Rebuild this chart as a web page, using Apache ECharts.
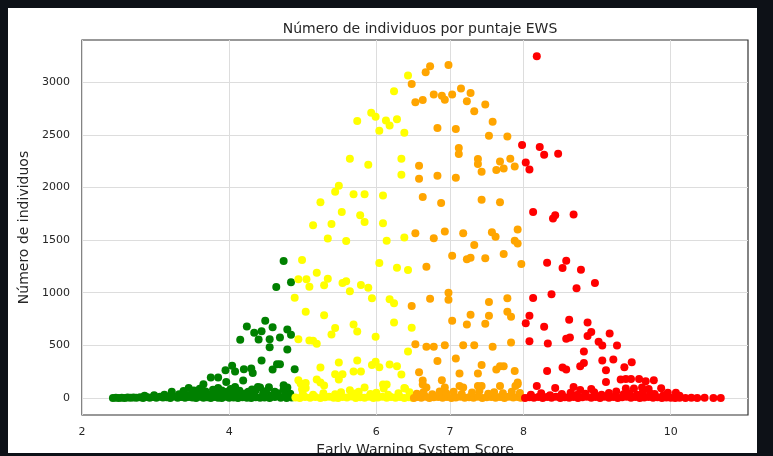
<!DOCTYPE html>
<html>
<head>
<meta charset="utf-8">
<script src="https://cdn.jsdelivr.net/npm/echarts@6/dist/echarts.min.js"></script>
<style>
  html, body { margin: 0; padding: 0; background: #0d1117; width: 773px; height: 456px; overflow: hidden; }
  #wrap { position: absolute; left: 8px; top: 8px; width: 749px; height: 445px; overflow: hidden; background: #ffffff; }
  #chart { position: absolute; left: -8px; top: -8px; width: 773px; height: 456px; }
</style>
</head>
<body>
<div id="wrap"><div id="chart"></div></div>
<script>
const xTicks = [2, 4, 6, 7, 8, 10];
const yTicks = [0, 500, 1000, 1500, 2000, 2500, 3000];

const greenPoints = [
  [4.74,1302],[4.84,1099],[4.64,1054],
  [4.49,733],[4.24,680],[4.34,619],[4.44,635],[4.59,673],[4.79,651],[4.84,600],
  [4.15,552],[4.40,556],[4.55,559],[4.69,575],[4.55,483],[4.79,461],
  [4.44,356],[4.65,321],[4.69,321],[4.59,270],
  [4.04,305],[3.95,264],[4.20,273],[4.30,280],[4.32,238],[4.89,273],[4.08,251],
  [3.75,194],[3.85,194],[3.96,152],[4.19,165],[3.65,130],
  [4.74,121],[4.54,102],[4.39,105],[4.79,100],[4.42,99],[4.74,80],[4.31,80],[3.45,95],
  [2.42,0],[2.46,2],[2.50,0],[2.54,3],[2.58,0],[2.62,4],[2.66,1],[2.70,5],[2.74,2],[2.79,6],
  [2.83,0],[2.88,8],[2.92,3],[2.97,10],[3.01,2],[3.06,12],[3.10,4],[3.15,6],[3.20,0],[3.25,14],
  [3.30,3],[3.35,8],[3.40,1],[3.45,10],[3.50,4],[3.55,0],[3.60,12],[3.65,2],[3.70,6],[3.75,0],
  [3.80,9],[3.85,3],[3.90,0],[3.95,11],[4.00,2],[4.06,5],[4.12,0],[4.18,7],[4.24,2],[4.30,0],
  [4.36,6],[4.42,1],[4.48,4],[4.55,0],[4.62,8],[4.70,2],[4.78,0],[4.85,5],
  [2.85,22],[2.98,26],[3.12,30],[3.22,25],[3.32,35],[3.42,28],[3.50,40],[3.58,32],[3.66,45],[3.72,30],
  [3.79,48],[3.86,38],[3.92,44],[3.99,30],[4.05,50],[4.13,36],[4.22,42],[4.33,30],[4.46,38],[4.58,25],
  [4.66,44],[4.76,30],[4.83,40],
  [3.22,58],[3.38,66],[3.52,72],[3.60,88],[3.68,62],[3.78,78],[3.85,95],[3.90,70],[3.97,60],[4.02,85],
  [4.08,105],[4.14,68],[4.26,60],[4.36,72],[4.50,64],[4.62,58]
];

const yellowPoints = [
  [6.43,3064],[6.24,2914],[5.93,2711],[5.99,2673],[5.74,2632],[6.13,2638],[6.28,2648],[6.18,2590],[6.04,2540],[6.38,2521],
  [5.64,2273],[5.89,2216],[6.34,2273],[6.34,2121],[5.49,2016],[5.44,1959],[5.69,1937],[5.84,1937],[6.09,1924],[5.24,1861],
  [5.53,1768],[5.78,1737],[5.84,1673],[5.14,1642],[5.39,1654],[6.09,1661],[5.34,1515],[5.59,1492],[6.14,1495],[6.38,1524],
  [4.99,1311],[6.04,1283],[6.28,1238],[6.43,1216],
  [4.94,1128],[5.05,1128],[5.09,1057],[5.19,1190],[5.34,1133],[5.29,1070],[5.54,1092],[5.59,1108],[5.64,1013],[5.79,1073],
  [5.89,1047],[5.94,947],[4.89,952],[6.18,937],[6.24,899],
  [5.04,819],[5.29,785],[6.24,718],[6.48,667],[5.69,699],[5.74,632],[5.44,664],[5.39,604],[5.99,581],
  [4.94,559],[5.09,547],[5.14,543],[5.19,514],[6.43,442],
  [5.24,290],[5.49,337],[5.74,356],[5.94,314],[5.99,343],[6.04,292],[6.18,318],[6.28,302],[5.69,251],[5.79,251],
  [5.44,226],[5.54,226],[5.49,175],[5.19,175],[5.24,147],[5.29,118],[4.94,169],[5.04,143],[6.34,223],
  [4.99,83],[5.84,99],[6.09,128],[6.14,128],[6.38,95],[4.97,137],[5.04,95],[5.64,73],[6.10,89],[6.39,89],
  [4.90,5],[4.96,0],[5.03,8],[5.10,2],[5.17,10],[5.24,0],[5.30,6],[5.36,12],[5.42,3],[5.48,0],
  [5.54,9],[5.60,4],[5.66,14],[5.72,0],[5.78,7],[5.84,2],[5.90,11],[5.96,0],[6.02,5],[6.08,12],
  [6.14,1],[6.20,8],[6.26,3],[6.32,10],[6.38,0],[6.44,6],[6.49,2],
  [5.00,40],[5.14,30],[5.28,45],[5.44,35],[5.52,55],[5.70,42],[5.76,60],[5.92,38],[6.00,50],[6.16,30],
  [6.30,45],[6.45,55]
];

const orangePoints = [
  [6.73,3152],[6.67,3095],[6.98,3165],[6.48,2985],[6.78,2883],[6.89,2873],[6.93,2835],[7.03,2883],[7.15,2940],[6.53,2810],
  [6.63,2832],[6.83,2566],[7.08,2556],[7.12,2375],[7.12,2318],[6.58,2207],[6.58,2083],[6.83,2111],[7.08,2092],[6.63,1911],
  [6.88,1854],[7.28,2899],[7.23,2819],[7.48,2790],[7.33,2724],[7.58,2626],[7.53,2492],[7.78,2486],[7.38,2270],[7.38,2223],
  [7.68,2248],[7.82,2273],[7.88,2200],[7.43,2150],[7.63,2166],[7.73,2181],[7.43,1883],[7.68,1861],
  [6.93,1581],[7.18,1566],[7.57,1575],[7.62,1533],[7.92,1600],[7.88,1495],[7.92,1467],[7.33,1454],[7.03,1352],[7.23,1318],
  [7.28,1333],[7.48,1327],[7.73,1369],[7.97,1273],[6.53,1566],[6.78,1518],[6.68,1248],
  [6.98,1000],[6.98,933],[7.53,911],[7.78,947],[6.73,943],[6.48,873],
  [7.03,733],[7.28,790],[7.23,699],[7.48,705],[7.53,781],[7.78,819],[7.83,771],
  [6.93,502],[7.18,502],[7.33,502],[7.58,486],[7.83,528],[6.53,511],[6.68,486],[6.78,486],
  [7.08,375],[7.43,314],[7.63,270],[7.68,302],[7.73,302],[6.83,352],
  [7.13,232],[7.38,232],[7.88,257],[6.58,245],
  [6.89,169],[7.92,147],[6.63,166],[6.63,128],[6.93,99],
  [7.13,114],[7.38,114],[7.43,114],[7.68,114],[7.89,114],[6.68,99],[7.18,99],[7.92,130],
  [6.51,0],[6.56,8],[6.61,3],[6.67,12],[6.72,0],[6.78,6],[6.84,10],[6.90,2],[6.96,9],[7.02,0],
  [7.08,5],[7.14,12],[7.20,1],[7.26,7],[7.32,3],[7.38,11],[7.44,0],[7.50,6],[7.56,10],[7.62,2],
  [7.68,8],[7.74,0],[7.80,12],[7.86,4],[7.92,9],[7.96,2],
  [6.55,40],[6.64,55],[6.76,35],[6.86,62],[6.95,45],[7.05,58],[7.16,38],[7.30,52],[7.40,66],[7.52,40],
  [7.60,55],[7.72,45],[7.84,60],[7.95,48]
];

const redPoints = [
  [8.18,3248],[7.98,2404],[8.22,2385],[8.28,2311],[8.47,2321],[8.03,2238],[8.08,2172],[8.13,1768],[8.43,1737],[8.40,1705],
  [8.68,1743],[8.32,1286],[8.58,1305],[8.53,1235],[8.78,1219],[8.97,1092],[8.72,1042],[8.38,985],[8.13,950],
  [8.08,781],[8.03,711],[8.28,676],[8.62,743],[8.87,718],[8.92,626],[8.87,588],[9.17,613],[8.58,562],[8.63,575],
  [8.08,540],[8.33,518],[9.02,533],[9.07,499],[9.27,499],[8.82,442],
  [8.82,333],[8.77,302],[9.07,356],[9.22,366],[9.47,340],[8.53,290],[8.58,270],[8.32,257],[9.12,264],[9.37,292],
  [9.12,152],[9.32,175],[9.39,181],[9.46,181],[9.57,181],[9.66,159],[9.77,168],
  [8.18,114],[8.43,95],[8.68,105],[8.77,76],[8.92,86],[9.39,89],[9.50,89],[9.61,100],[9.70,86],[9.72,43],
  [9.87,92],[9.96,49],[10.07,49],
  [8.02,0],[8.08,6],[8.14,2],[8.20,10],[8.26,0],[8.32,8],[8.38,3],[8.44,12],[8.50,0],[8.56,7],
  [8.62,2],[8.68,10],[8.74,0],[8.80,6],[8.86,12],[8.92,2],[8.98,8],[9.04,0],[9.10,11],[9.16,3],
  [9.22,9],[9.28,0],[9.34,6],[9.40,12],[9.46,2],[9.52,8],[9.58,0],[9.64,5],[9.70,10],[9.76,1],
  [9.82,6],[9.88,0],[9.94,4],[10.00,2],[10.06,0],[10.12,3],[10.20,0],[10.28,2],[10.36,0],[10.46,1],
  [10.58,0],[10.68,0],
  [8.10,30],[8.24,45],[8.36,25],[8.52,38],[8.64,50],[8.72,28],[8.84,40],[8.96,55],[9.06,30],[9.16,48],
  [9.26,62],[9.36,35],[9.44,45],[9.54,30],[9.62,52],[9.78,38],[9.90,25],[10.12,20]
];

const textColor = '#262626';
const font = 'DejaVu Sans';

function scatter(name, data, color) {
  return {
    name: name, type: 'scatter', data: data, symbol: 'circle', symbolSize: 8,
    itemStyle: { color: color, opacity: 1 }, silent: true, animation: false
  };
}

const chart = echarts.init(document.getElementById('chart'), null, { renderer: 'canvas' });
chart.setOption({
  animation: false,
  backgroundColor: 'transparent',
  title: {
    text: 'Número de individuos por puntaje EWS',
    left: 415, top: 17, textAlign: 'center',
    textStyle: { fontFamily: font, fontSize: 14, fontWeight: 'normal', color: textColor }
  },
  grid: {
    left: 82, right: 25, top: 40, bottom: 41,
    outerBoundsMode: 'none', containLabel: false,
    show: true, borderColor: '#333333', borderWidth: 1.2, backgroundColor: 'transparent'
  },
  xAxis: {
    type: 'value', min: 2, max: 11.05,
    name: 'Early Warning System Score', nameLocation: 'middle', nameGap: 28,
    nameTextStyle: { fontFamily: font, fontSize: 14, color: textColor },
    axisLine: { show: false },
    axisTick: { show: false, customValues: xTicks },
    axisLabel: { customValues: xTicks, margin: 12, fontFamily: font, fontSize: 11, color: textColor,
      formatter: v => String(v) },
    splitLine: { show: true, lineStyle: { color: '#dddddd', width: 1 } }
  },
  yAxis: {
    type: 'value', min: -162, max: 3402,
    name: 'Número de individuos', nameLocation: 'middle', nameGap: 47, nameRotate: 90,
    nameTextStyle: { fontFamily: font, fontSize: 14, color: textColor },
    axisLine: { show: false },
    axisTick: { show: false, customValues: yTicks },
    axisLabel: { customValues: yTicks, margin: 12, fontFamily: font, fontSize: 11, color: textColor,
      formatter: v => String(v) },
    splitLine: { show: true, lineStyle: { color: '#dddddd', width: 1 } }
  },
  series: [
    scatter('green', greenPoints, '#008000'),
    scatter('yellow', yellowPoints, '#ffff00'),
    scatter('orange', orangePoints, '#ffa500'),
    scatter('red', redPoints, '#ff0000')
  ]
});
</script>
</body>
</html>
